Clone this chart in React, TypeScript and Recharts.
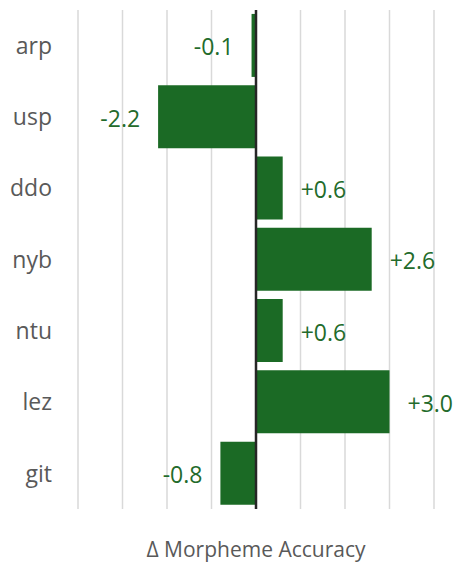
import { BarChart, Bar, XAxis, YAxis, CartesianGrid, ReferenceLine, LabelList } from 'recharts';

// --- Morpheme accuracy change per language ---
const languages = ['arp', 'usp', 'ddo', 'nyb', 'ntu', 'lez', 'git'];
const deltas = [-0.1, -2.2, 0.6, 2.6, 0.6, 3.0, -0.8];
const xTicks = [-4, -3, -2, -1, 0, 1, 2, 3, 4];

const data = languages.map((lang, i) => ({ lang, delta: deltas[i] }));

const GREEN = '#1b6a25';
const LABEL_GREEN = '#236b2b';
const GREY = '#595959';
const FONT = '"Open Sans", "Noto Sans", sans-serif';

const fmt = (v: number) => (v > 0 ? '+' : '') + v.toFixed(1);

// value label sits outside the bar end, on whichever side the bar grows
const ValueLabel = (props: any) => {
  const { x, y, width, height, value } = props;
  const left = Math.min(x, x + width);
  const right = Math.max(x, x + width);
  const pos = value >= 0;
  return (
    <text
      x={pos ? right + 18 : left - 18}
      y={y + height / 2 + 1}
      textAnchor={pos ? 'start' : 'end'}
      dominantBaseline="central"
      fill={LABEL_GREEN}
      fontSize={23}
      fontFamily={FONT}
    >
      {fmt(value)}
    </text>
  );
};

export default function App() {
  return (
    <div style={{ position: 'absolute', left: 0, top: 0, background: '#fff' }}>
      <BarChart
        width={467}
        height={566}
        data={data}
        layout="vertical"
        margin={{ top: 10, right: 33, bottom: 0, left: 0 }}
        barCategoryGap="5.5%"
      >
        <CartesianGrid horizontal={false} stroke="#d9d9d9" strokeWidth={1.5} />
        <XAxis
          type="number"
          domain={[-4, 4]}
          ticks={xTicks}
          tick={() => <g />}
          tickLine={false}
          axisLine={false}
          height={57}
          label={{
            value: 'Δ Morpheme Accuracy',
            position: 'insideBottom',
            offset: 9,
            fill: GREY,
            fontSize: 21,
            fontFamily: FONT,
          }}
        />
        <YAxis
          type="category"
          dataKey="lang"
          width={78}
          tickLine={false}
          axisLine={false}
          tickSize={0}
          tickMargin={26}
          tick={{ fill: GREY, fontSize: 23, fontFamily: FONT }}
        />
        <Bar dataKey="delta" fill={GREEN} isAnimationActive={false}>
          <LabelList dataKey="delta" content={ValueLabel} />
        </Bar>
        <ReferenceLine x={0} stroke="#262626" strokeWidth={2.5} />
      </BarChart>
    </div>
  );
}
